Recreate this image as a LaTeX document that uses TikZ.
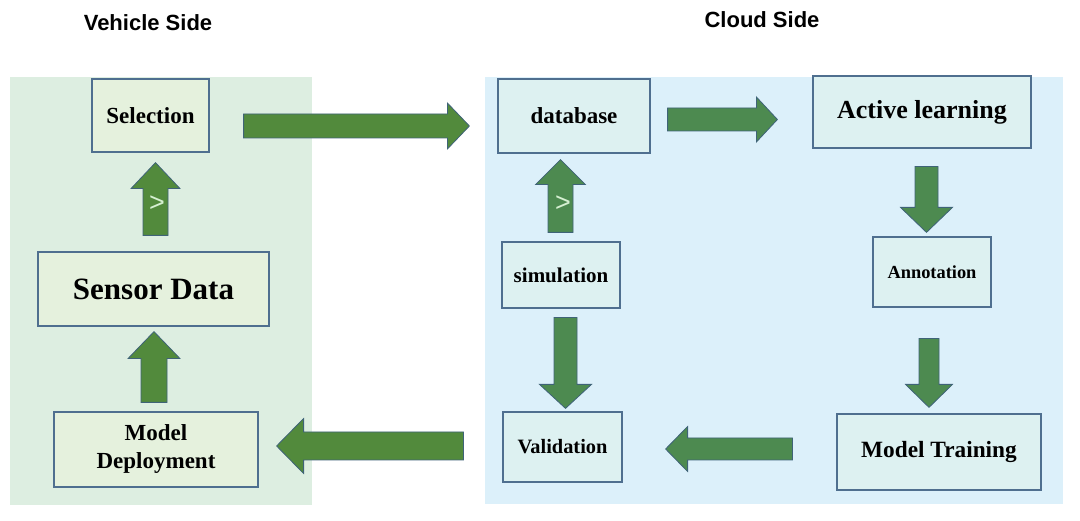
\documentclass[tikz,border=0pt]{standalone}
\usepackage{fontspec}
\setmainfont{Liberation Serif}
\newfontfamily\titlefont{Liberation Sans}
\usetikzlibrary{calc}

\definecolor{vehiclebg}{HTML}{DDEEE1}
\definecolor{cloudbg}{HTML}{DCF0FA}
\definecolor{vboxfill}{HTML}{E5F1DD}
\definecolor{cboxfill}{HTML}{DDF1F1}
\definecolor{boxedge}{HTML}{4F6F8F}
\definecolor{arrowgreen}{HTML}{4D8A50}
\definecolor{arrowolive}{HTML}{528A3C}
\definecolor{arrowedge}{HTML}{3F6378}
\definecolor{glyphcol}{HTML}{D6F0D2}

\tikzset{
  vbox/.style={draw=boxedge, line width=1.2pt, fill=vboxfill, inner sep=0pt, align=center, font=\bfseries},
  cbox/.style={vbox, fill=cboxfill},
  sidetitle/.style={font=\titlefont\bfseries\fontsize{22}{24}\selectfont},
  blockedge/.style={draw=arrowedge, line width=0.8pt, line join=miter},
  glyph/.style={text=glyphcol, font=\titlefont\fontsize{27}{28}\selectfont, inner sep=0pt}
}

% block arrow: [colour]{start}{end}{shaft half width}{head half width}{head length}
\newcommand{\blockarrow}[6][arrowgreen]{%
  \coordinate (ba) at ($(#3)!#6!(#2)$);
  \filldraw[blockedge, fill=#1] ($(#2)!#4!90:(#3)$) -- ($(ba)!#4!90:(#3)$)
    -- ($(ba)!#5!90:(#3)$) -- (#3) -- ($(ba)!#5!-90:(#3)$)
    -- ($(ba)!#4!-90:(#3)$) -- ($(#2)!#4!-90:(#3)$) -- cycle;}

\begin{document}
\begin{tikzpicture}[x=1pt, y=-1pt]
  \useasboundingbox[fill=white] (0,0) rectangle (1080,521);

  % -- Panels --
  \fill[vehiclebg] (10,77) rectangle (312,505);
  \fill[cloudbg] (485,77) rectangle (1063,504);

  % -- Titles --
  \node[sidetitle] (vtitle) at (148,23) {Vehicle Side};
  \node[sidetitle] (ctitle) at (762,20) {Cloud Side};

  % -- Vehicle side --
  \node[vbox, minimum width=117, minimum height=73, font=\bfseries\fontsize{23}{26}\selectfont] (sel) at (150.5,115.5) {Selection};
  \node[vbox, minimum width=231, minimum height=74, font=\bfseries\fontsize{31}{34}\selectfont] (sensor) at (153.5,289) {Sensor Data};
  \node[vbox, minimum width=204, minimum height=75, font=\bfseries\fontsize{23}{28}\selectfont] (deploy) at (156,449.5) {Model\\Deployment};

  % -- Cloud side --
  \node[cbox, minimum width=152, minimum height=74, font=\bfseries\fontsize{23}{26}\selectfont] (db) at (574,116) {database};
  \node[cbox, minimum width=218, minimum height=72, font=\bfseries\fontsize{26}{29}\selectfont] (active) at (922,112) {Active learning};
  \node[cbox, minimum width=118, minimum height=70, font=\bfseries\fontsize{18.4}{21}\selectfont] (annot) at (932,272) {Annotation};
  \node[cbox, minimum width=204, minimum height=76, font=\bfseries\fontsize{23.3}{26}\selectfont] (train) at (939,452) {Model Training};
  \node[cbox, minimum width=118, minimum height=66, font=\bfseries\fontsize{21}{24}\selectfont] (sim) at (561,275) {simulation};
  \node[cbox, minimum width=119, minimum height=70, font=\bfseries\fontsize{20.4}{23}\selectfont] (valid) at (562.5,447) {Validation};

  % -- Arrow ends --
  \coordinate (a1s) at ($(sel.east)+(34,10.5)$);
  \coordinate (a1e) at ($(db.west)+(-28,10)$);
  \coordinate (a2s) at ($(db.east)+(17,3.5)$);
  \coordinate (a2e) at ($(active.west)+(-35,7.5)$);
  \coordinate (a3s) at ($(active.south)+(4.5,18)$);
  \coordinate (a3e) at ($(annot.north)+(-5.5,-4)$);
  \coordinate (a4s) at ($(annot.south)+(-3,31)$);
  \coordinate (a4e) at ($(train.north)+(-10,-6)$);
  \coordinate (a5s) at ($(train.west)+(-44,-3)$);
  \coordinate (a5e) at ($(valid.east)+(43,2)$);
  \coordinate (a6s) at ($(valid.west)+(-39,-1)$);
  \coordinate (a6e) at ($(deploy.east)+(18,-3.5)$);
  \coordinate (a7s) at ($(sensor.north)+(2,-16)$);
  \coordinate (a7e) at ($(sel.south)+(5,10)$);
  \coordinate (a8s) at ($(deploy.north)+(-2,-9)$);
  \coordinate (a8e) at ($(sensor.south)+(0.5,5)$);
  \coordinate (a9s) at ($(sim.north)+(-0.5,-9)$);
  \coordinate (a9e) at ($(db.south)+(-13.5,6)$);
  \coordinate (a10s) at ($(sim.south)+(4.5,9)$);
  \coordinate (a10e) at ($(valid.north)+(3,-3)$);

  % -- Block arrows --
  \blockarrow[arrowolive]{a1s}{a1e}{12pt}{23pt}{22pt}
  \blockarrow{a2s}{a2e}{11.5pt}{22.5pt}{21pt}
  \blockarrow{a3s}{a3e}{11.5pt}{26pt}{25pt}
  \blockarrow{a4s}{a4e}{10pt}{23.5pt}{23pt}
  \blockarrow{a5s}{a5e}{11pt}{22.5pt}{22pt}
  \blockarrow[arrowolive]{a6s}{a6e}{14pt}{27.5pt}{27pt}
  \blockarrow[arrowolive]{a7s}{a7e}{12.5pt}{24.5pt}{26pt}
  \blockarrow[arrowolive]{a8s}{a8e}{13pt}{26pt}{27pt}
  \blockarrow{a9s}{a9e}{12.5pt}{25pt}{25pt}
  \blockarrow{a10s}{a10e}{11.5pt}{26pt}{24pt}

  % -- Marks on the upward arrows --
  \node[glyph] (g1) at ($(a7s)!0.44!(a7e)+(1.5,0)$) {>};
  \node[glyph] (g2) at ($(a9s)!0.4!(a9e)+(2.5,0)$) {>};

\end{tikzpicture}
\end{document}
